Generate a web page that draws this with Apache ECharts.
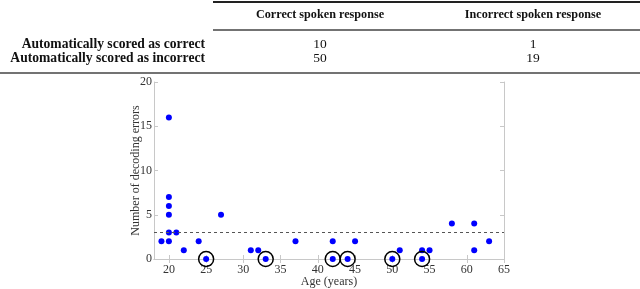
<!DOCTYPE html>
<html><head><meta charset="utf-8">
<script src="https://cdn.jsdelivr.net/npm/echarts@6/dist/echarts.min.js"></script>
<style>html,body{margin:0;padding:0;background:#fff}#c{width:640px;height:289px}</style>
</head><body><div id="c"></div>
<script>
// Table data
const colHeaders = ['Correct spoken response', 'Incorrect spoken response'];
const rowLabels = ['Automatically scored as correct', 'Automatically scored as incorrect'];
const rowCorrect = [10, 1];
const rowIncorrect = [50, 19];
// Scatter data: age, decoding errors
const ages =   [19, 20, 20, 20, 20, 20, 20, 21, 22, 24, 25, 27, 31, 32, 33, 37, 42, 42, 44, 45, 50, 51, 54, 54, 55, 58, 61, 61, 63];
const errors = [ 2, 16,  7,  6,  5,  3,  2,  3,  1,  2,  0,  5,  1,  1,  0,  2,  2,  0,  0,  2,  0,  1,  1,  0,  1,  4,  4,  1,  2];
// Circled points (age, errors)
const circledAges = [25, 33, 42, 44, 50, 54];
const circledErrors = [0, 0, 0, 0, 0, 0];
const threshold = 3;
const xTicks = [20, 25, 30, 35, 40, 45, 50, 55, 60, 65];

const chart = echarts.init(document.getElementById('c'), null, {renderer: 'canvas'});
const serif = '"Liberation Serif", "Times New Roman", serif';
const axisGray = '#c8c8c8';
const labelColor = '#333';

const graphics = [];
// table rules
graphics.push({type: 'line', shape: {x1: 213, y1: 2, x2: 640, y2: 2}, style: {stroke: '#222', lineWidth: 2}});
graphics.push({type: 'line', shape: {x1: 213, y1: 30, x2: 640, y2: 30}, style: {stroke: '#444', lineWidth: 1.5}});
graphics.push({type: 'line', shape: {x1: 0, y1: 73, x2: 640, y2: 73}, style: {stroke: '#444', lineWidth: 1.5}});
const colX = [320, 533];
colHeaders.forEach((h, i) => graphics.push({type: 'text', x: colX[i], y: 15, style: {text: h, font: 'bold 12.2px ' + serif, fill: '#111', align: 'center', verticalAlign: 'middle'}}));
const rowY = [44, 58];
const vals = [rowCorrect, rowIncorrect];
rowLabels.forEach((r, i) => {
  graphics.push({type: 'text', x: 205, y: rowY[i], style: {text: r, font: 'bold 13.6px ' + serif, fill: '#111', align: 'right', verticalAlign: 'middle'}});
  vals[i].forEach((v, j) => graphics.push({type: 'text', x: colX[j], y: rowY[i], style: {text: String(v), font: '13.5px ' + serif, fill: '#111', align: 'center', verticalAlign: 'middle'}}));
});

const xCommon = {type: 'value', min: 18, max: 65,
  axisLine: {show: true, lineStyle: {color: axisGray, width: 1}},
  axisTick: {show: true, inside: true, length: 4, customValues: xTicks, lineStyle: {color: axisGray}},
  splitLine: {show: false}};
const yCommon = {type: 'value', min: 0, max: 20, interval: 5,
  axisLine: {show: true, lineStyle: {color: axisGray, width: 1}},
  axisTick: {show: true, inside: true, length: 4, lineStyle: {color: axisGray}},
  splitLine: {show: false}};

chart.setOption({
  animation: false,
  grid: {left: 154, right: 136, top: 82, bottom: 30, containLabel: false, outerBoundsMode: 'none'},
  xAxis: [
    Object.assign({}, xCommon, {position: 'bottom', name: 'Age (years)', nameLocation: 'middle', nameGap: 17, nameMoveOverlap: false,
      nameTextStyle: {fontFamily: serif, fontSize: 12, color: labelColor},
      axisLabel: {show: true, customValues: xTicks, fontFamily: serif, fontSize: 12, color: labelColor, margin: 5}}),
    Object.assign({}, xCommon, {position: 'top', axisLabel: {show: false}})
  ],
  yAxis: [
    Object.assign({}, yCommon, {position: 'left', name: 'Number of decoding errors', nameLocation: 'middle', nameGap: 12, nameMoveOverlap: false,
      nameTextStyle: {fontFamily: serif, fontSize: 12, color: labelColor},
      axisLabel: {show: true, fontFamily: serif, fontSize: 12, color: labelColor, margin: 2}}),
    Object.assign({}, yCommon, {position: 'right', axisLabel: {show: false}})
  ],
  series: [
    {type: 'scatter', data: ages.map((a, i) => [a, errors[i]]), symbolSize: 6,
      itemStyle: {color: '#0000ff', opacity: 1}, z: 3,
      markLine: {silent: true, symbol: 'none', label: {show: false},
        lineStyle: {color: '#555', type: [3, 3], width: 1},
        data: [{yAxis: threshold}]}},
    {type: 'scatter', data: circledAges.map((a, i) => [a, circledErrors[i]]), symbol: 'circle', symbolSize: 15,
      itemStyle: {color: 'rgba(0,0,0,0)', borderColor: '#000', borderWidth: 1.5, opacity: 1}, z: 4}
  ],
  graphic: graphics
});
</script></body></html>
